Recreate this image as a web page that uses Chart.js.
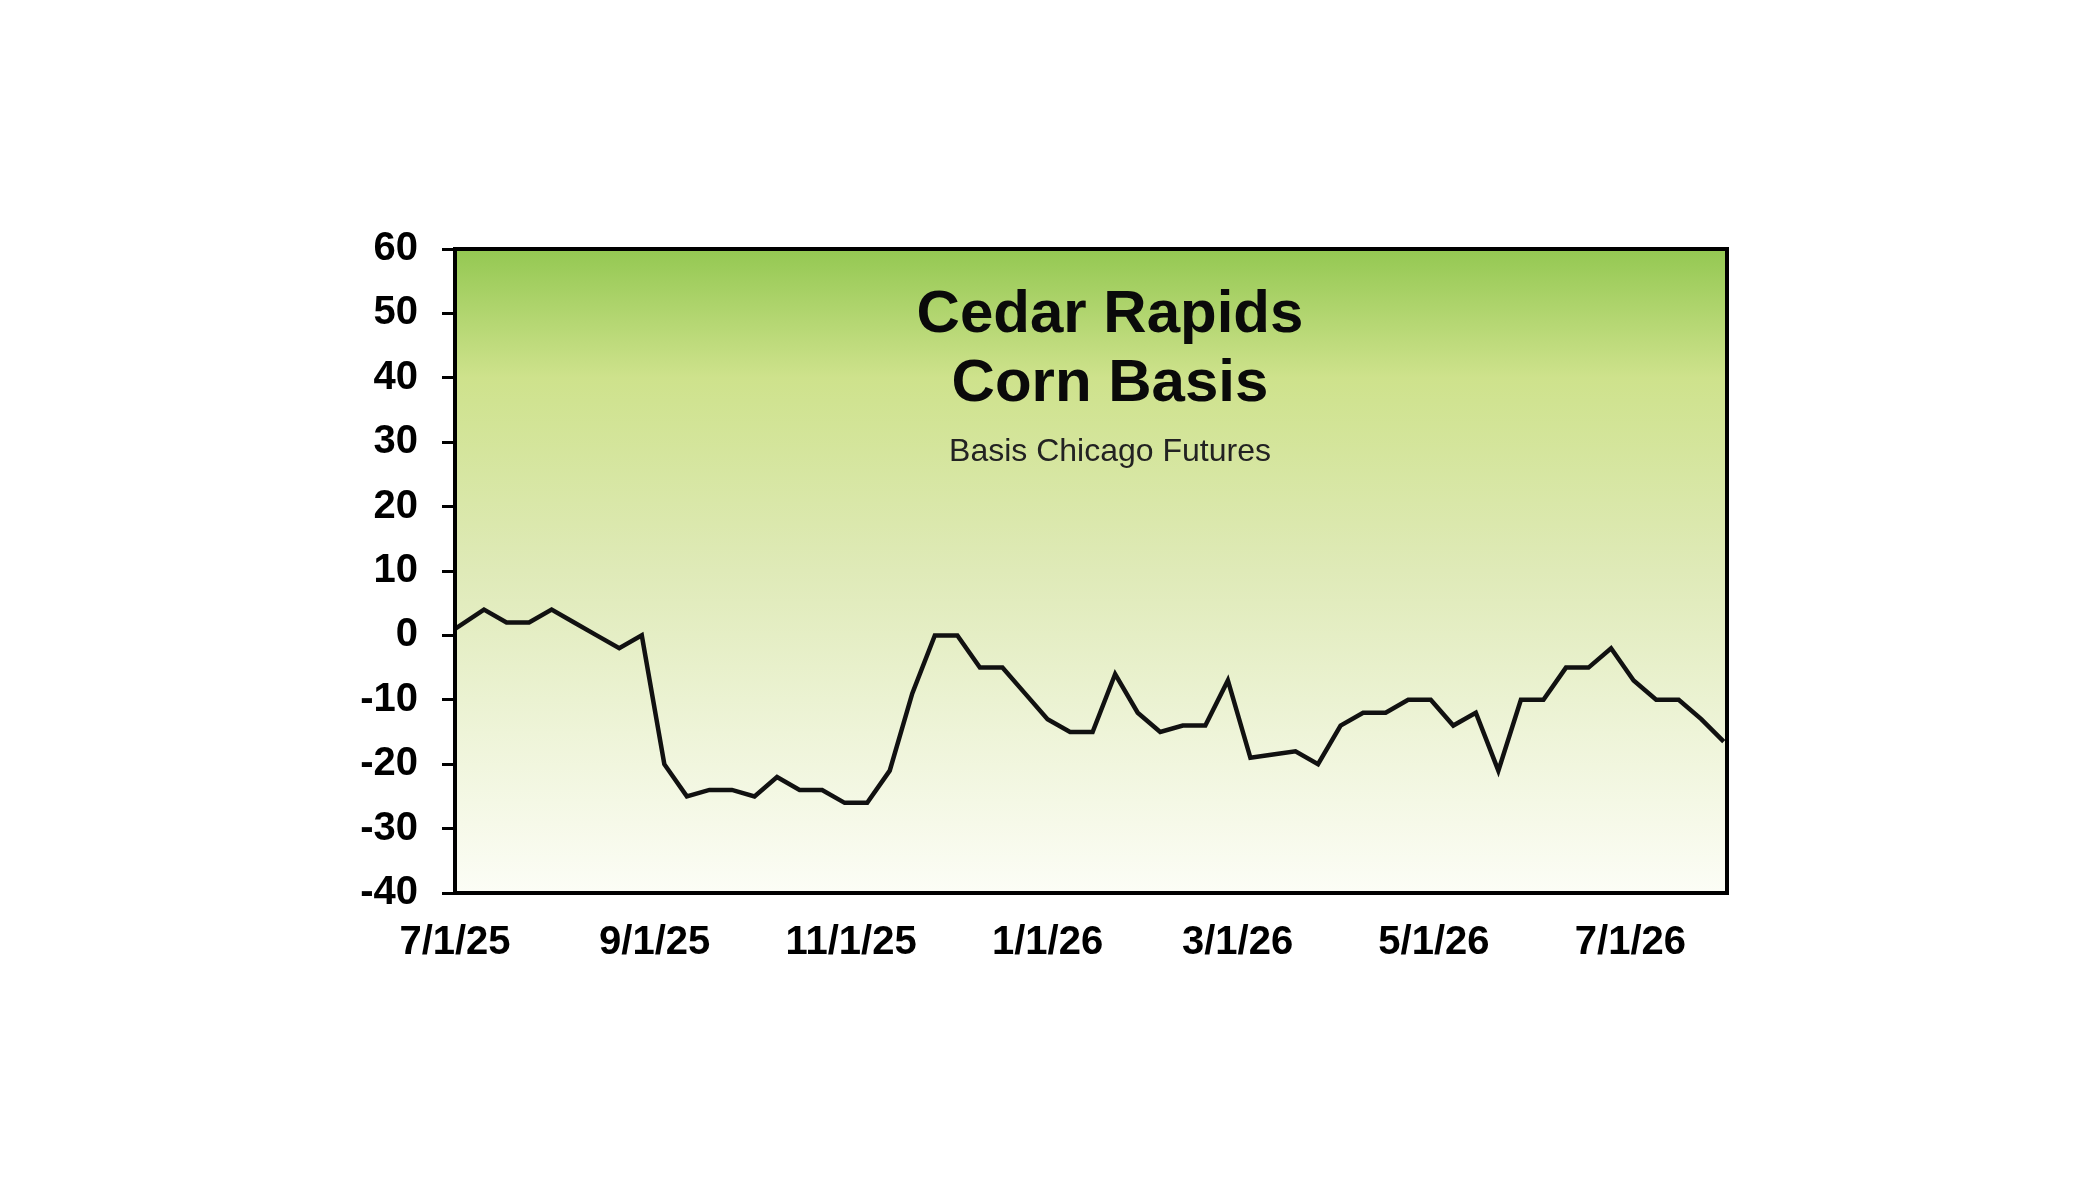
<!DOCTYPE html>
<html>
<head>
<meta charset="utf-8">
<title>Cedar Rapids Corn Basis</title>
<script src="https://cdn.jsdelivr.net/npm/chart.js@4.4.1/dist/chart.umd.min.js"></script>
<style>
  html, body { margin: 0; padding: 0; background: #fff; }
  canvas { display: block; }
</style>
</head>
<body>
<canvas id="basisChart" width="2100" height="1200"></canvas>
<script>
// weekly basis readings (cents vs Chicago futures)
const dates = [
  '7/1/25', '7/10/25', '7/17/25', '7/24/25', '7/31/25', '8/7/25', '8/14/25', '8/21/25', '8/28/25',
  '9/4/25', '9/11/25', '9/18/25', '9/25/25', '10/2/25', '10/9/25', '10/16/25', '10/23/25', '10/30/25',
  '11/6/25', '11/13/25', '11/20/25', '11/27/25', '12/4/25', '12/11/25', '12/18/25', '12/25/25',
  '1/1/26', '1/8/26', '1/15/26', '1/22/26', '1/29/26', '2/5/26', '2/12/26', '2/19/26', '2/26/26',
  '3/5/26', '3/12/26', '3/19/26', '3/26/26', '4/2/26', '4/9/26', '4/16/26', '4/23/26', '4/30/26',
  '5/7/26', '5/14/26', '5/21/26', '5/28/26', '6/4/26', '6/11/26', '6/18/26', '6/25/26',
  '7/2/26', '7/9/26', '7/16/26', '7/23/26', '7/30/26'
];
const basis = [
  1, 4, 2, 2, 4, 2, 0, -2, 0,
  -20, -25, -24, -24, -25, -22, -24, -24, -26,
  -26, -21, -9, 0, 0, -5, -5, -9,
  -13, -15, -15, -6, -12, -15, -14, -14, -7,
  -19, -18.5, -18, -20, -14, -12, -12, -10, -10,
  -14, -12, -21, -10, -10, -5, -5, -2,
  -7, -10, -10, -13, -16.5
];
const xTickLabels = ['7/1/25', '9/1/25', '11/1/25', '1/1/26', '3/1/26', '5/1/26', '7/1/26'];
const xStart = '7/1/25';
const xEnd = '7/31/26';
const yTicks = [-40, -30, -20, -10, 0, 10, 20, 30, 40, 50, 60];

const titleLines = ['Cedar Rapids', 'Corn Basis'];
const subtitle = 'Basis Chicago Futures';

const FONT = '"Liberation Sans", Arial, sans-serif';

function parseDay(s) {
  const [m, d, y] = s.split('/').map(Number);
  return Date.UTC(2000 + y, m - 1, d) / 86400000;
}
const day0 = parseDay(xStart);
const toX = s => parseDay(s) - day0;

const points = dates.map((d, i) => ({ x: toX(d), y: basis[i] }));

const plotBackground = {
  id: 'plotBackground',
  beforeDraw(chart) {
    const { ctx, chartArea: a } = chart;
    const g = ctx.createLinearGradient(0, a.top, 0, a.bottom);
    g.addColorStop(0, 'rgb(148,200,82)');
    g.addColorStop(0.2, 'rgb(206,226,140)');
    g.addColorStop(0.5, 'rgb(223,234,184)');
    g.addColorStop(0.75, 'rgb(238,244,216)');
    g.addColorStop(1, 'rgb(252,253,246)');
    ctx.save();
    ctx.fillStyle = g;
    ctx.fillRect(a.left, a.top, a.right - a.left, a.bottom - a.top);
    ctx.restore();
  },
  afterDraw(chart) {
    const { ctx, chartArea: a } = chart;
    ctx.save();
    ctx.strokeStyle = '#000';
    ctx.lineWidth = 4;
    ctx.strokeRect(a.left, a.top, a.right - a.left, a.bottom - a.top);

    // title sits inside the plot
    const cx = 1110;
    ctx.fillStyle = '#0a0a0a';
    ctx.textAlign = 'center';
    ctx.textBaseline = 'alphabetic';
    ctx.font = 'bold 60px ' + FONT;
    ctx.fillText(titleLines[0], cx, 332);
    ctx.fillText(titleLines[1], cx, 401);
    ctx.font = '32px ' + FONT;
    ctx.fillStyle = '#222';
    ctx.fillText(subtitle, cx, 461);
    ctx.restore();
  }
};

new Chart(document.getElementById('basisChart'), {
  type: 'line',
  data: {
    datasets: [{
      data: points,
      borderColor: '#111',
      borderWidth: 4.5,
      pointRadius: 0,
      tension: 0,
      fill: false
    }]
  },
  options: {
    responsive: false,
    animation: false,
    devicePixelRatio: 1,
    layout: { padding: { left: 0, top: 249, right: 373, bottom: 227 } },
    plugins: { legend: { display: false }, tooltip: { enabled: false } },
    scales: {
      x: {
        type: 'linear',
        min: 0,
        max: toX(xEnd),
        afterBuildTicks: s => { s.ticks = xTickLabels.map(t => ({ value: toX(t) })); },
        afterFit: s => { s.height = 80; },
        ticks: {
          autoSkip: false,
          maxRotation: 0,
          padding: 26,
          color: '#000',
          font: { family: FONT, size: 40, weight: 'bold' },
          callback: v => xTickLabels.find(t => toX(t) === v) || ''
        },
        grid: { display: false, drawTicks: false },
        border: { display: false }
      },
      y: {
        min: -40,
        max: 60,
        afterBuildTicks: s => { s.ticks = yTicks.map(v => ({ value: v })); },
        afterFit: s => { s.width = 455; },
        ticks: {
          padding: 24,
          color: '#000',
          font: { family: FONT, size: 40, weight: 'bold' }
        },
        grid: { drawOnChartArea: false, drawTicks: true, tickLength: 13, tickColor: '#000', tickWidth: 3 },
        border: { display: true, color: '#000', width: 4 }
      }
    }
  },
  plugins: [plotBackground]
});
</script>
</body>
</html>
